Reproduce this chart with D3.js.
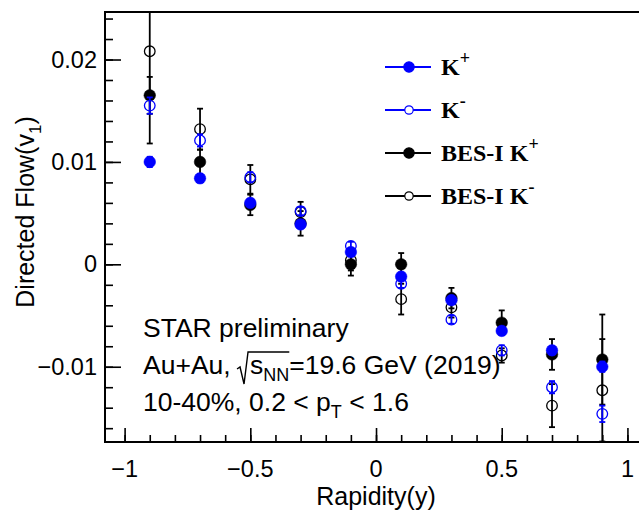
<!DOCTYPE html>
<html>
<head>
<meta charset="utf-8">
<script src="https://cdn.jsdelivr.net/npm/d3@7"></script>
<style>
  body { margin: 0; background: #fff; }
  svg { display: block; }
</style>
</head>
<body>
<div class="chart"></div>
<script>
// data
const rapidity = [-0.9, -0.7, -0.5, -0.3, -0.1, 0.1, 0.3, 0.5, 0.7, 0.9];
const kPlus = [0.0100, 0.0084, 0.0060, 0.0039, 0.0012, -0.0012, -0.0035, -0.0065, -0.0084, -0.0100];
const kPlusErr = [0.0005, 0.0004, 0.0004, 0.0004, 0.0004, 0.0004, 0.0004, 0.0004, 0.0004, 0.0005];
const kMinus = [0.0155, 0.0121, 0.0085, 0.0052, 0.0018, -0.0019, -0.0054, -0.0084, -0.0120, -0.0146];
const kMinusErr = [0.0008, 0.0006, 0.0005, 0.0004, 0.0004, 0.0004, 0.0004, 0.0005, 0.0006, 0.0008];
const bes1KPlus = [0.0165, 0.0100, 0.0058, 0.0040, 0.0000, 0.0000, -0.0033, -0.0057, -0.0088, -0.0093];
const bes1KPlusErr = [0.0018, 0.0012, 0.0010, 0.0012, 0.0011, 0.0011, 0.0010, 0.0012, 0.0015, 0.0044];
const bes1KMinus = [0.0208, 0.0132, 0.0083, 0.0051, 0.0004, -0.0034, -0.0042, -0.0089, -0.0138, -0.0123];
const bes1KMinusErr = [0.0090, 0.0020, 0.0014, 0.0010, 0.0010, 0.0015, 0.0010, 0.0007, 0.0021, 0.0050];

const xTicks = [-1, -0.5, 0, 0.5, 1];
const xTickLabels = ['\u22121', '\u22120.5', '0', '0.5', '1'];
const yTicks = [-0.01, 0, 0.01, 0.02];
const yTickLabels = ['\u22120.01', '0', '0.01', '0.02'];

const W = 639, H = 513;
const margin = {top: 12, right: -1, bottom: 71, left: 105};
const sans = '"Liberation Sans", Arial, Helvetica, sans-serif';
const serif = '"Liberation Serif", "Times New Roman", serif';

const svg = d3.select('.chart').append('svg')
    .attr('width', W).attr('height', H);

const x = d3.scaleLinear().domain([-1.078, 1.05]).range([margin.left, W - margin.right]);
const y = d3.scaleLinear().domain([-0.01735, 0.02464]).range([H - margin.bottom, margin.top]);

const plot = svg.append('g');
plot.append('clipPath').attr('id', 'clip')
    .append('rect')
    .attr('x', x.range()[0]).attr('y', y.range()[1])
    .attr('width', x.range()[1] - x.range()[0])
    .attr('height', y.range()[0] - y.range()[1]);

// axes: ROOT style ticks pointing inward
const yAxisMinor = d3.axisRight(y).tickValues(d3.range(-0.016, 0.0245, 0.002)).tickSize(8).tickFormat('');
const yAxisMajor = d3.axisRight(y).tickValues(yTicks).tickSize(16).tickFormat('');
const xAxisMinor = d3.axisTop(x).tickValues(d3.range(-1, 1.05, 0.1)).tickSize(7).tickFormat('');
const xAxisMajor = d3.axisTop(x).tickValues(xTicks).tickSize(14).tickFormat('');

[yAxisMinor, yAxisMajor].forEach(ax => {
  plot.append('g').attr('transform', 'translate(' + x.range()[0] + ',0)').call(ax)
    .call(g => g.select('.domain').remove())
    .selectAll('line').attr('stroke', '#000').attr('stroke-width', 1.6);
});
[xAxisMinor, xAxisMajor].forEach(ax => {
  plot.append('g').attr('transform', 'translate(0,' + y.range()[0] + ')').call(ax)
    .call(g => g.select('.domain').remove())
    .selectAll('line').attr('stroke', '#000').attr('stroke-width', 1.6);
});

// frame
plot.append('rect')
    .attr('x', x.range()[0]).attr('y', y.range()[1])
    .attr('width', x.range()[1] - x.range()[0])
    .attr('height', y.range()[0] - y.range()[1])
    .attr('fill', 'none').attr('stroke', '#000').attr('stroke-width', 2);

// tick labels
svg.append('g').selectAll('text').data(yTicks).enter().append('text')
    .attr('x', 97).attr('y', d => y(d) + 8)
    .attr('text-anchor', 'end')
    .attr('font-family', sans).attr('font-size', 23.5)
    .text((d, i) => yTickLabels[i]);
svg.append('g').selectAll('text').data(xTicks).enter().append('text')
    .attr('x', d => x(d)).attr('y', 477)
    .attr('text-anchor', 'middle')
    .attr('font-family', sans).attr('font-size', 23.5)
    .text((d, i) => xTickLabels[i]);

// axis titles
svg.append('text')
    .attr('x', 376).attr('y', 505)
    .attr('text-anchor', 'middle')
    .attr('font-family', sans).attr('font-size', 25)
    .text('Rapidity(y)');
const yt = svg.append('text')
    .attr('transform', 'translate(34,212) rotate(-90)')
    .attr('text-anchor', 'middle')
    .attr('font-family', sans).attr('font-size', 25);
yt.append('tspan').text('Directed Flow(v');
yt.append('tspan').attr('font-size', 17).attr('dy', 7).text('1');
yt.append('tspan').attr('dy', -7).text(')');

// series
const series = [
  {name: 'BES-I K', sup: '+', vals: bes1KPlus, errs: bes1KPlusErr, color: '#000', open: false},
  {name: 'BES-I K', sup: '-', vals: bes1KMinus, errs: bes1KMinusErr, color: '#000', open: true},
  {name: 'K', sup: '+', vals: kPlus, errs: kPlusErr, color: '#0000ff', open: false},
  {name: 'K', sup: '-', vals: kMinus, errs: kMinusErr, color: '#0000ff', open: true}
];

const marks = plot.append('g').attr('clip-path', 'url(#clip)');
series.forEach(s => {
  const pts = rapidity.map((r, i) => ({r: r, v: s.vals[i], e: s.errs[i]}));
  const g = marks.append('g');
  const eb = g.selectAll('g.err').data(pts).enter().append('g').attr('class', 'err')
      .attr('stroke', s.color).attr('stroke-width', 1.8);
  eb.append('line')
      .attr('x1', d => x(d.r)).attr('x2', d => x(d.r))
      .attr('y1', d => y(d.v + d.e)).attr('y2', d => y(d.v - d.e));
  eb.append('line')
      .attr('x1', d => x(d.r) - 3).attr('x2', d => x(d.r) + 3)
      .attr('y1', d => y(d.v + d.e)).attr('y2', d => y(d.v + d.e));
  eb.append('line')
      .attr('x1', d => x(d.r) - 3).attr('x2', d => x(d.r) + 3)
      .attr('y1', d => y(d.v - d.e)).attr('y2', d => y(d.v - d.e));
  g.selectAll('circle').data(pts).enter().append('circle')
      .attr('cx', d => x(d.r)).attr('cy', d => y(d.v))
      .attr('r', s.open ? 5.3 : 5.8)
      .attr('fill', s.open ? 'none' : s.color)
      .attr('stroke', s.color).attr('stroke-width', s.open ? 1.3 : 0.5);
});

// legend (current data first, as in the figure)
const legendOrder = [series[2], series[3], series[0], series[1]];
const legend = svg.append('g');
legendOrder.forEach((s, i) => {
  const ly = 67 + i * 43;
  const row = legend.append('g');
  row.append('line').attr('x1', 385).attr('x2', 431).attr('y1', ly).attr('y2', ly)
      .attr('stroke', s.color).attr('stroke-width', 1.8);
  row.append('circle').attr('cx', 409).attr('cy', ly)
      .attr('r', s.open ? 4.2 : 5.2)
      .attr('fill', s.open ? '#fff' : s.color)
      .attr('stroke', s.color).attr('stroke-width', 1.2);
  const t = row.append('text').attr('x', 441).attr('y', ly + 8)
      .attr('font-family', serif).attr('font-weight', 'bold').attr('font-size', 24);
  t.append('tspan').text(s.name);
  t.append('tspan').attr('font-size', 18).attr('dy', -11).text(s.sup);
});

// annotation
const ann = svg.append('g').attr('font-family', sans).attr('font-size', 26.5).attr('fill', '#000');
ann.append('text').attr('x', 143).attr('y', 337).text('STAR preliminary');
const t2 = ann.append('text').attr('x', 143).attr('y', 374);
t2.append('tspan').text('Au+Au, ');
t2.append('tspan').attr('dx', 12).text('s');
t2.append('tspan').attr('font-size', 18).attr('dy', 7).text('NN');
t2.append('tspan').attr('dy', -7).text('=19.6 GeV (2019)');
const t3 = ann.append('text').attr('x', 143).attr('y', 411);
t3.append('tspan').text('10-40%, 0.2 < p');
t3.append('tspan').attr('font-size', 18).attr('dy', 7).text('T');
t3.append('tspan').attr('dy', -7).text(' < 1.6');

// radical sign over s_NN
const n2 = t2.node();
const sBox = n2.getExtentOfChar(7);
const nBox = n2.getExtentOfChar(9);
const rx = sBox.x - 2;
const topY = 352, botY = 384;
ann.append('path')
    .attr('d', 'M' + (rx - 11) + ',' + (topY + 17) + ' L' + (rx - 8) + ',' + (topY + 15) +
      ' L' + (rx - 4) + ',' + botY + ' L' + rx + ',' + topY + ' L' + (nBox.x + nBox.width) + ',' + topY)
    .attr('fill', 'none').attr('stroke', '#000').attr('stroke-width', 1.4);
</script>
</body>
</html>
